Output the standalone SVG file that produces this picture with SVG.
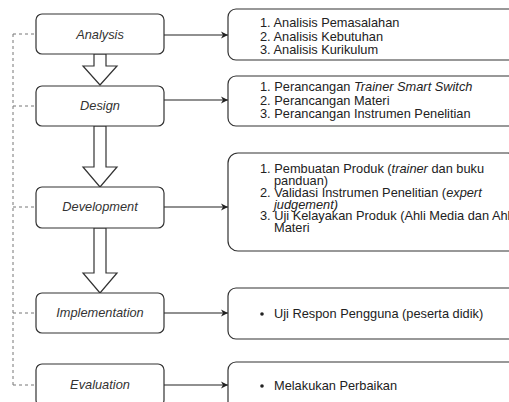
<svg xmlns="http://www.w3.org/2000/svg" width="509" height="402" viewBox="0 0 509 402">
<defs>
<marker id="ah" markerWidth="8" markerHeight="8" refX="7" refY="4" orient="auto" markerUnits="userSpaceOnUse">
<path d="M0,0.5 L7,4 L0,7.5 L2,4 Z" fill="#222"/>
</marker>
<style>
.box{fill:#fff;stroke:#333;stroke-width:1.2}
.lt{font-family:"Liberation Sans",Arial,sans-serif;font-size:12.8px;font-style:italic;fill:#333;text-anchor:middle}
.rt{font-family:"Liberation Sans",Arial,sans-serif;font-size:12.8px;fill:#222}
.con{stroke:#222;stroke-width:1.2;fill:none}
.dash{stroke:#777;stroke-width:1;stroke-dasharray:3,3;fill:none}
.blk{fill:#fff;stroke:#333;stroke-width:1.2}
</style>
</defs>
<rect width="509" height="402" fill="#fff"/>
<g id="connectors">
<path class="dash" d="M13,34 V385 M13,34 H36 M13,106 H36 M13,207 H36 M13,313 H36 M13,385 H36"/>
<line class="con" x1="164" y1="35" x2="228" y2="35" marker-end="url(#ah)"/>
<line class="con" x1="164" y1="100" x2="228" y2="100" marker-end="url(#ah)"/>
<line class="con" x1="164" y1="207" x2="228" y2="207" marker-end="url(#ah)"/>
<line class="con" x1="164" y1="313" x2="228" y2="313" marker-end="url(#ah)"/>
<line class="con" x1="164" y1="385" x2="228" y2="385" marker-end="url(#ah)"/>
<path class="blk" d="M94,54 V66 H83 L100,85 L117,66 H106 V54 Z"/>
<path class="blk" d="M94,126 V167 H83 L100,187 L117,167 H106 V126 Z"/>
<path class="blk" d="M94,228 V273 H83 L100,293 L117,273 H106 V228 Z"/>
</g>
<g id="analysis">
<rect class="box" x="36" y="14" width="128" height="40" rx="6"/>
<text class="lt" x="100" y="39">Analysis</text>
</g>
<g id="design">
<rect class="box" x="36" y="86" width="128" height="40" rx="6"/>
<text class="lt" x="100" y="110">Design</text>
</g>
<g id="development">
<rect class="box" x="36" y="187" width="128" height="41" rx="6"/>
<text class="lt" x="100" y="211">Development</text>
</g>
<g id="implementation">
<rect class="box" x="36" y="293" width="128" height="40" rx="6"/>
<text class="lt" x="100" y="317">Implementation</text>
</g>
<g id="evaluation">
<rect class="box" x="36" y="364" width="128" height="42" rx="6"/>
<text class="lt" x="100" y="389">Evaluation</text>
</g>
<g id="analysis-detail">
<rect class="box" x="228" y="9" width="290" height="51" rx="8"/>
<text class="rt" x="260" y="27">1. Analisis Pemasalahan</text>
<text class="rt" x="260" y="40.5">2. Analisis Kebutuhan</text>
<text class="rt" x="260" y="54">3. Analisis Kurikulum</text>
</g>
<g id="design-detail">
<rect class="box" x="228" y="76" width="290" height="50" rx="8"/>
<text class="rt" x="260" y="91">1. Perancangan <tspan font-style="italic">Trainer Smart Switch</tspan></text>
<text class="rt" x="260" y="104.5">2. Perancangan Materi</text>
<text class="rt" x="260" y="118">3. Perancangan Instrumen Penelitian</text>
</g>
<g id="development-detail">
<rect class="box" x="228" y="153" width="290" height="98" rx="10"/>
<text class="rt" x="260" y="173">1. Pembuatan Produk (<tspan font-style="italic">trainer</tspan> dan buku</text>
<text class="rt" x="274" y="185">panduan)</text>
<text class="rt" x="260" y="197">2. Validasi Instrumen Penelitian (<tspan font-style="italic">expert</tspan></text>
<text class="rt" x="274" y="208.5" font-style="italic">judgement)</text>
<text class="rt" x="260" y="220">3. Uji Kelayakan Produk (Ahli Media dan Ahli</text>
<text class="rt" x="274" y="231.5">Materi</text>
</g>
<g id="implementation-detail">
<rect class="box" x="228" y="288" width="290" height="51" rx="8"/>
<circle cx="262" cy="314" r="1.8" fill="#222"/>
<text class="rt" x="274" y="318">Uji Respon Pengguna (peserta didik)</text>
</g>
<g id="evaluation-detail">
<rect class="box" x="228" y="362" width="290" height="50" rx="8"/>
<circle cx="262" cy="386" r="1.8" fill="#222"/>
<text class="rt" x="274" y="390">Melakukan Perbaikan</text>
</g>
</svg>
